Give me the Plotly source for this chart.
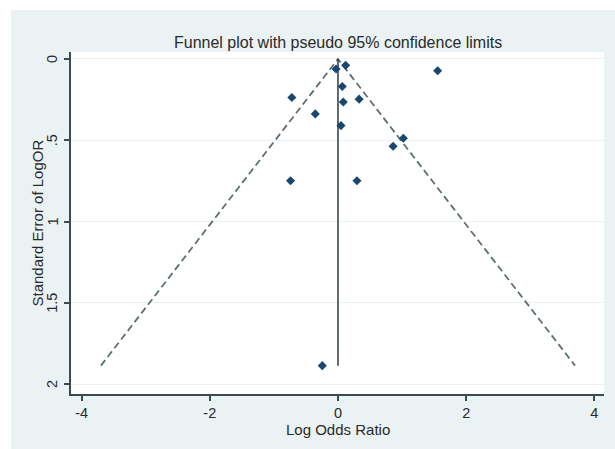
import plotly.graph_objects as go

# Study data: log odds ratio and its standard error
log_or = [-0.03, 0.12, 1.555, 0.067, -0.72, 0.083, 0.33, -0.354, 0.047, 1.02, 0.86, -0.74, 0.296, -0.245]
se_log_or = [0.062, 0.039, 0.072, 0.169, 0.237, 0.265, 0.247, 0.338, 0.41, 0.488, 0.537, 0.749, 0.749, 1.887]
pooled = 0.0
z95 = 1.96

x_ticks = [-4, -2, 0, 2, 4]
x_tick_labels = ["-4", "-2", "0", "2", "4"]
y_ticks = [0, 0.5, 1, 1.5, 2]
y_tick_labels = ["0", ".5", "1", "1.5", "2"]

title_text = "Funnel plot with pseudo 95% confidence limits"
x_title = "Log Odds Ratio"
y_title = "Standard Error of LogOR"

max_se = max(se_log_or)
FONT = "Liberation Sans, Arial, sans-serif"
BG = "#eaf2f3"
TXT = "#2a2a2a"

fig = go.Figure()

# pseudo 95% confidence limits
fig.add_trace(go.Scatter(
    x=[pooled - z95 * max_se, pooled, pooled + z95 * max_se],
    y=[max_se, 0, max_se],
    mode="lines",
    line=dict(color="#5d6f75", width=1.8, dash="7px,4px"),
    hoverinfo="skip", showlegend=False,
))
# pooled estimate
fig.add_trace(go.Scatter(
    x=[pooled, pooled], y=[0, max_se], mode="lines",
    line=dict(color="#2c3a40", width=1.5),
    hoverinfo="skip", showlegend=False,
))
# studies
fig.add_trace(go.Scatter(
    x=log_or, y=se_log_or, mode="markers",
    marker=dict(symbol="diamond", size=7, color="#1a476f"),
    showlegend=False,
))

W, H = 615, 449
ml, mr, mt, mb = 71, 11, 52, 55
pw = W - ml - mr
ph = H - mt - mb

def px_x(p):
    return (p - ml) / pw

def px_y(p):
    return (H - mb - p) / ph

annotations = [
    dict(text=title_text, xref="paper", yref="paper", x=0.5, y=px_y(42),
         xanchor="center", yanchor="middle", showarrow=False,
         font=dict(family=FONT, size=16, color=TXT)),
    dict(text=x_title, xref="paper", yref="paper", x=0.5, y=px_y(429),
         xanchor="center", yanchor="middle", showarrow=False,
         font=dict(family=FONT, size=15, color=TXT)),
    dict(text=y_title, xref="paper", yref="paper", x=px_x(36.5), y=0.5,
         xanchor="center", yanchor="middle", showarrow=False, textangle=-90,
         font=dict(family=FONT, size=15, color=TXT)),
]
# y tick labels (rotated, Stata style)
for v, lab in zip(y_ticks, y_tick_labels):
    annotations.append(dict(
        text=lab, xref="paper", yref="y", x=px_x(52), y=v,
        xanchor="center", yanchor="middle", showarrow=False, textangle=-90,
        font=dict(family=FONT, size=14.5, color=TXT)))

fig.update_layout(
    width=W, height=H,
    margin=dict(l=ml, r=mr, t=mt, b=mb, pad=0),
    paper_bgcolor=BG, plot_bgcolor="white",
    font=dict(family=FONT, size=14, color=TXT),
    shapes=[
        dict(type="rect", xref="paper", yref="paper",
             x0=px_x(-5), x1=px_x(W + 5), y0=px_y(10), y1=px_y(-5),
             fillcolor="white", line=dict(width=0), layer="below"),
        dict(type="rect", xref="paper", yref="paper",
             x0=px_x(-5), x1=px_x(11), y0=px_y(H + 5), y1=px_y(-5),
             fillcolor="white", line=dict(width=0), layer="below"),
    ],
    annotations=annotations,
    xaxis=dict(
        range=[-4.165, 4.15], tickvals=x_ticks, ticktext=x_tick_labels,
        showgrid=False, zeroline=False, showline=True, linecolor="#3a4a50", linewidth=1.5,
        ticks="outside", ticklen=5, tickcolor="#3a4a50", tickwidth=1.5,
        tickfont=dict(size=14.5, color=TXT), ticklabelstandoff=0,
    ),
    yaxis=dict(
        range=[2.0615, -0.043], tickvals=y_ticks, showticklabels=False,
        showgrid=True, gridcolor=BG, gridwidth=1.2, zeroline=False,
        showline=True, linecolor="#3a4a50", linewidth=1.5,
        ticks="outside", ticklen=5, tickcolor="#3a4a50", tickwidth=1.5,
    ),
)

fig.write_html("out.html")
